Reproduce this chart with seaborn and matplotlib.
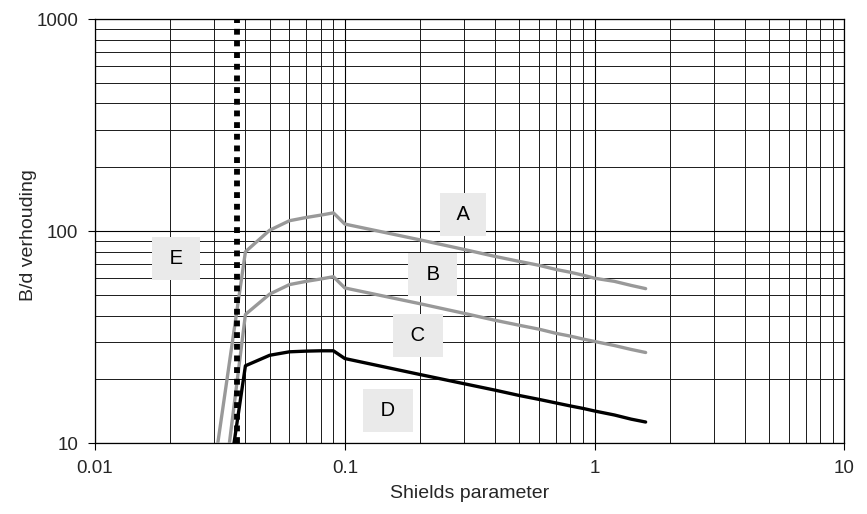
import matplotlib
matplotlib.use("Agg")
import matplotlib.pyplot as plt
import numpy as np
import pandas as pd
import seaborn as sns
from matplotlib.ticker import FixedLocator, FixedFormatter, LogLocator, NullFormatter

# Shields parameter vs. width/depth ratio curves
shields = [0.04, 0.05, 0.06, 0.07, 0.08, 0.09, 0.1, 0.2, 0.3, 0.4, 0.5,
           0.6, 0.7, 0.8, 0.9, 1.0, 1.2, 1.4, 1.6]

start_a, start_b, start_d = 0.031, 0.0345, 0.036
ratio_a = [10, 80, 101, 112, 116, 119, 122, 108, 91, 82, 76, 72,
           69, 66, 64, 62, 60, 58, 55.5, 53.6]
ratio_b = [10, 40.5, 50.5, 56, 58, 59.5, 61, 54, 45.5, 41, 38, 36,
           34.5, 33, 32, 31, 30.2, 28.9, 27.7, 26.8]
ratio_d = [10, 23.2, 26, 27, 27.2, 27.3, 27.3, 25.1, 21.1, 19.1, 17.8, 16.8,
           16.1, 15.5, 15.0, 14.6, 14.2, 13.6, 13.0, 12.6]

# critical Shields value (vertical dotted line E)
shields_e = [0.037, 0.037]
ratio_e = [10, 1000]

label_text = ["A", "B", "C", "D", "E"]
label_x = [0.297, 0.225, 0.196, 0.1486, 0.0211]
label_y = [120, 62.7, 32.3, 14.3, 74]

x_ticks = [0.01, 0.1, 1, 10]
x_tick_labels = ["0.01", "0.1", "1", "10"]
y_ticks = [10, 100, 1000]
y_tick_labels = ["10", "100", "1000"]

sns.set_theme(style="white")
plt.rcParams["font.family"] = ["Liberation Sans", "DejaVu Sans"]

df = pd.concat([
    pd.DataFrame({"shields": [start_a] + shields, "ratio": ratio_a, "curve": "A"}),
    pd.DataFrame({"shields": [start_b] + shields, "ratio": ratio_b, "curve": "B"}),
    pd.DataFrame({"shields": [start_d] + shields, "ratio": ratio_d, "curve": "D"}),
], ignore_index=True)

fig, ax = plt.subplots(figsize=(8.67, 5.14), dpi=100)
fig.subplots_adjust(left=0.1096, right=0.974, top=0.963, bottom=0.1375)

ax.set_xscale("log")
ax.set_yscale("log")
ax.set_xlim(0.01, 10)
ax.set_ylim(10, 1000)

ax.set_axisbelow(True)
ax.xaxis.set_major_locator(FixedLocator(x_ticks))
ax.xaxis.set_major_formatter(FixedFormatter(x_tick_labels))
ax.yaxis.set_major_locator(FixedLocator(y_ticks))
ax.yaxis.set_major_formatter(FixedFormatter(y_tick_labels))
ax.xaxis.set_minor_locator(LogLocator(base=10, subs=np.arange(2, 10)))
ax.yaxis.set_minor_locator(LogLocator(base=10, subs=np.arange(2, 10)))
ax.xaxis.set_minor_formatter(NullFormatter())
ax.yaxis.set_minor_formatter(NullFormatter())

ax.grid(True, which="major", color="#000000", linewidth=0.8)
ax.grid(True, which="minor", color="#1a1a1a", linewidth=0.7)

sns.lineplot(data=df, x="shields", y="ratio", hue="curve",
             palette={"A": "#999999", "B": "#999999", "D": "#000000"},
             estimator=None, sort=False, legend=False, linewidth=2.4,
             ax=ax, zorder=3)
sns.lineplot(x=shields_e, y=ratio_e, color="black", linewidth=4.2,
             linestyle=(0, (1, 1)), estimator=None, sort=False, ax=ax, zorder=4)

for t, x, y in zip(label_text, label_x, label_y):
    ax.text(x, y, f" {t} ", ha="center", va="center", fontsize=14.5,
            color="black", zorder=5,
            bbox=dict(boxstyle="square,pad=0.6", facecolor="#eaeaea",
                      edgecolor="none"))

ax.tick_params(axis="both", which="major", direction="out", length=5,
               width=0.8, color="black", labelsize=13.5, pad=7,
               bottom=True, left=True)
ax.tick_params(axis="both", which="minor", length=0)
for s in ax.spines.values():
    s.set_color("black")
    s.set_linewidth(0.9)

ax.set_xlabel("Shields parameter", fontsize=14)
ax.set_ylabel("B/d verhouding", fontsize=14)
ax.xaxis.set_label_coords(0.5, -0.098)
ax.yaxis.set_label_coords(-0.077, 0.491)

fig.savefig("out.png", dpi=100)
